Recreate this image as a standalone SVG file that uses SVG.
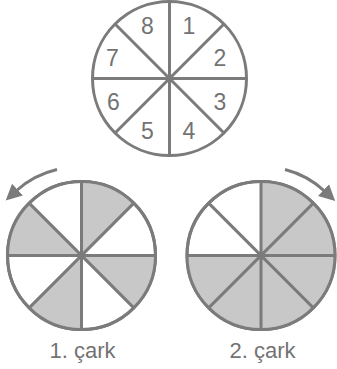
<svg xmlns="http://www.w3.org/2000/svg" width="337" height="369" viewBox="0 0 337 369">
  <style>
    .rim { fill: #ffffff; stroke: #7b7b7b; stroke-width: 3; }
    .spoke { stroke: #7b7b7b; stroke-width: 3; fill: none; stroke-linecap: butt; }
    .shade { fill: #c8c8c9; stroke: none; }
    .num { font-family: "Liberation Sans", Arial, sans-serif; font-size: 23px; fill: #737373; text-anchor: middle; }
    .lbl { font-family: "Liberation Sans", Arial, sans-serif; font-size: 22px; fill: #737373; text-anchor: middle; }
    .arrow { fill: none; stroke: #7b7b7b; stroke-width: 3; }
  </style>
  <defs>
    <marker id="head" markerUnits="userSpaceOnUse" markerWidth="17" markerHeight="17" viewBox="0 0 17 17" refX="2" refY="8.5" orient="auto">
      <path d="M0,0.5 L16,8.5 L0,16.5 Z" fill="#7b7b7b"/>
    </marker>
  </defs>

  <g id="wheel-numbered">
    <circle class="rim" cx="169.5" cy="78.5" r="77"/>
    <path class="spoke" d="M169.5,1.5 V155.5 M92.5,78.5 H246.5 M115.05,24.05 L223.95,132.95 M223.95,24.05 L115.05,132.95"/>
    <text class="num" x="147.5" y="33.8">8</text>
    <text class="num" x="189" y="33.8">1</text>
    <text class="num" x="112.5" y="66">7</text>
    <text class="num" x="220" y="66">2</text>
    <text class="num" x="113.3" y="109.8">6</text>
    <text class="num" x="220" y="109.8">3</text>
    <text class="num" x="147.5" y="138.8">5</text>
    <text class="num" x="189" y="138.8">4</text>
  </g>

  <g id="wheel-1">
    <circle class="rim" cx="81.5" cy="255.5" r="74"/>
    <path class="shade" d="M81.5,255.5 L81.5,181.5 A74,74 0 0 1 133.83,203.17 Z"/>
    <path class="shade" d="M81.5,255.5 L155.5,255.5 A74,74 0 0 1 133.83,307.83 Z"/>
    <path class="shade" d="M81.5,255.5 L81.5,329.5 A74,74 0 0 1 29.17,307.83 Z"/>
    <path class="shade" d="M81.5,255.5 L7.5,255.5 A74,74 0 0 1 29.17,203.17 Z"/>
    <circle cx="81.5" cy="255.5" r="74" fill="none" stroke="#7b7b7b" stroke-width="3"/>
    <path class="spoke" d="M81.5,181.5 V329.5 M7.5,255.5 H155.5 M29.17,203.17 L133.83,307.83 M133.83,203.17 L29.17,307.83"/>
    <text class="lbl" x="82.5" y="358">1. çark</text>
  </g>

  <g id="wheel-2">
    <circle class="rim" cx="261" cy="255.5" r="74"/>
    <path class="shade" d="M261,255.5 L261,181.5 A74,74 0 1 1 187,255.5 Z"/>
    <circle cx="261" cy="255.5" r="74" fill="none" stroke="#7b7b7b" stroke-width="3"/>
    <path class="spoke" d="M261,181.5 V329.5 M187,255.5 H335 M208.67,203.17 L313.33,307.83 M313.33,203.17 L208.67,307.83"/>
    <text class="lbl" x="262.5" y="358">2. çark</text>
  </g>

  <g id="connectors">
    <path class="arrow" d="M57,169.5 A91,91 0 0 0 16,191" marker-end="url(#head)"/>
    <path class="arrow" d="M285,169.5 A91,91 0 0 1 325,191.5" marker-end="url(#head)"/>
  </g>
</svg>
